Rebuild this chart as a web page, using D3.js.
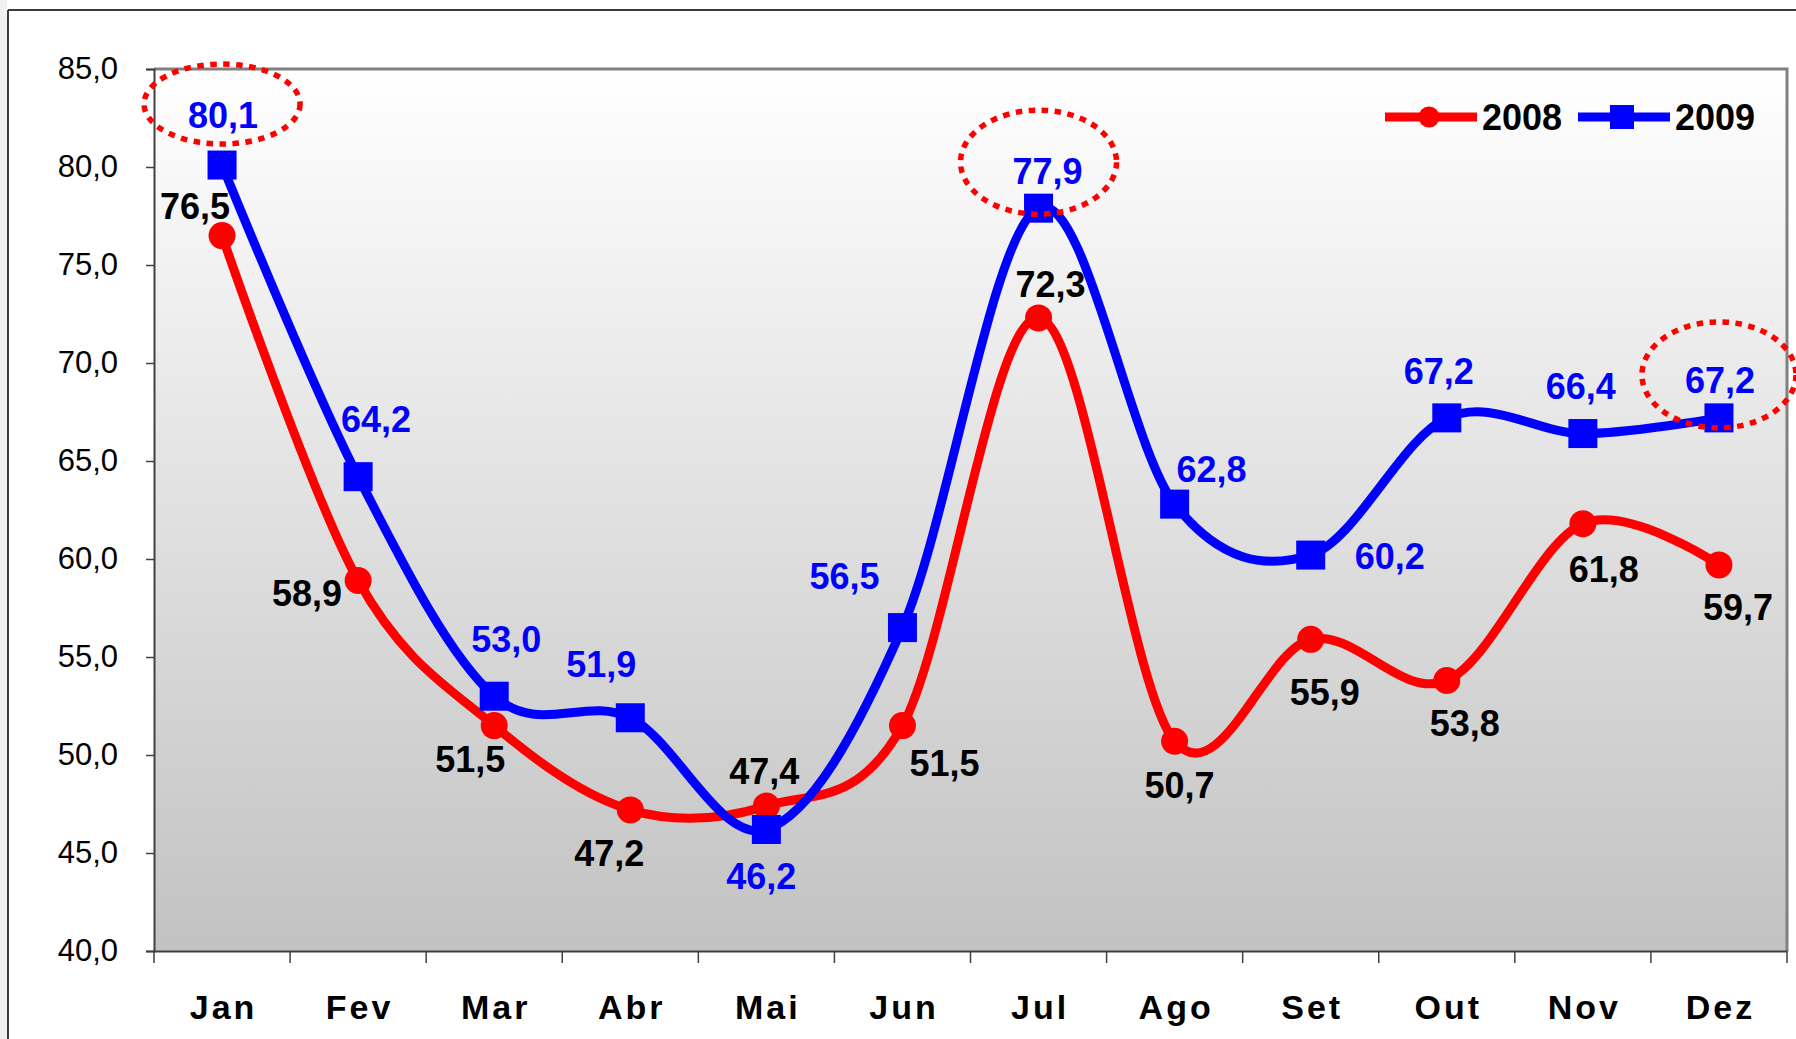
<!DOCTYPE html>
<html>
<head>
<meta charset="utf-8">
<script src="https://cdn.jsdelivr.net/npm/d3@7"></script>
<style>
  body { margin: 0; background: #fff; }
  text { font-family: "Liberation Sans", Arial, sans-serif; }
</style>
</head>
<body>
<div class="container"></div>
<script>
// data
var months = ["Jan", "Fev", "Mar", "Abr", "Mai", "Jun", "Jul", "Ago", "Set", "Out", "Nov", "Dez"];
var values2008 = [76.5, 58.9, 51.5, 47.2, 47.4, 51.5, 72.3, 50.7, 55.9, 53.8, 61.8, 59.7];
var values2009 = [80.1, 64.2, 53.0, 51.9, 46.2, 56.5, 77.9, 62.8, 60.2, 67.2, 66.4, 67.2];
var yTicks = [40, 45, 50, 55, 60, 65, 70, 75, 80, 85];
var highlighted = ["Jan", "Jul", "Dez"]; // 2009 values circled in red

// label offsets from the point (layout only)
var offsets2008 = [[-27,-30],[-51,12],[-24,33],[-21,43],[-2,-35],[42,37],[12,-34],[5,44],[14,53],[18,42],[21,45],[19,42]];
var offsets2009 = [[1,-50],[18,-58],[12,-57],[-29,-54],[-5,47],[-58,-52],[9,-37],[37,-35],[79,1],[-8,-47],[-2,-48],[1,-38]];
var ellipseSize = [[78,40,-61],[78,52,-46],[77,53,-43]]; // rx, ry, dy

var W = 1796, H = 1039;
var plotL = 154, plotR = 1787, plotT = 69, plotB = 951;

var svg = d3.select(".container").append("svg")
    .attr("width", W).attr("height", H);

// light strip at far left and outer frame
svg.append("rect").attr("x", 0).attr("y", 0).attr("width", 7).attr("height", H).attr("fill", "#eef1ee");
svg.append("line").attr("x1", 8).attr("x2", 8).attr("y1", 10).attr("y2", H).attr("stroke", "#3a3a3a").attr("stroke-width", 2);
svg.append("line").attr("x1", 8).attr("x2", W).attr("y1", 10).attr("y2", 10).attr("stroke", "#3a3a3a").attr("stroke-width", 2);

var defs = svg.append("defs");
var grad = defs.append("linearGradient").attr("id", "bg").attr("x1", 0).attr("x2", 0).attr("y1", 0).attr("y2", 1);
grad.append("stop").attr("offset", "0%").attr("stop-color", "#ffffff");
grad.append("stop").attr("offset", "100%").attr("stop-color", "#c2c2c2");

var x = d3.scaleBand().domain(months).range([plotL, plotR]);
var y = d3.scaleLinear().domain([40, 85]).range([plotB, plotT]);
var cx = function(i) { return x(months[i]) + x.bandwidth() / 2; };

// plot area
svg.append("rect").attr("x", plotL).attr("y", plotT).attr("width", plotR - plotL).attr("height", plotB - plotT)
    .attr("fill", "url(#bg)");
svg.append("path")
    .attr("d", "M" + plotL + "," + plotT + "H" + plotR + "V" + plotB)
    .attr("fill", "none").attr("stroke", "#808080").attr("stroke-width", 3);

// y axis
var yAxis = svg.append("g").attr("transform", "translate(" + plotL + ",0)")
    .call(d3.axisLeft(y).tickValues(yTicks).tickSize(8).tickPadding(28)
        .tickFormat(function(d) { return d3.format(".1f")(d).replace(".", ","); }));
yAxis.select(".domain").attr("stroke", "#404040").attr("stroke-width", 2);
yAxis.selectAll(".tick line").attr("stroke", "#404040").attr("stroke-width", 1.5);
yAxis.selectAll("text").attr("font-size", 31).attr("fill", "#000")
    .attr("font-family", "Liberation Sans, Arial, sans-serif");

// x axis
var xAxis = svg.append("g").attr("transform", "translate(0," + plotB + ")")
    .call(d3.axisBottom(x).tickSize(0).tickPadding(0));
xAxis.select(".domain").attr("stroke", "#404040").attr("stroke-width", 2);
xAxis.selectAll("text").remove();
xAxis.selectAll(".sep").data(d3.range(months.length + 1)).enter().append("line")
    .attr("x1", function(i) { return plotL + i * x.bandwidth(); })
    .attr("x2", function(i) { return plotL + i * x.bandwidth(); })
    .attr("y1", 0).attr("y2", 12)
    .attr("stroke", "#404040").attr("stroke-width", 1.5);
svg.selectAll(".month").data(months).enter().append("text")
    .attr("class", "month")
    .attr("x", function(d, i) { return cx(i) + 1.5; })
    .attr("y", 1019)
    .attr("text-anchor", "middle")
    .attr("font-size", 34).attr("font-weight", "bold").attr("letter-spacing", 3)
    .text(function(d) { return d; });

var line = d3.line()
    .x(function(d, i) { return cx(i); })
    .y(function(d) { return y(d); })
    .curve(d3.curveCardinal.tension(0));

function drawSeries(vals, color, shape, offsets, labelColor) {
    svg.append("path").datum(vals).attr("d", line)
        .attr("fill", "none").attr("stroke", color).attr("stroke-width", 9)
        .attr("stroke-linejoin", "round");
    var g = svg.append("g");
    if (shape == "circle") {
        g.selectAll("circle").data(vals).enter().append("circle")
            .attr("cx", function(d, i) { return cx(i); })
            .attr("cy", function(d) { return y(d); })
            .attr("r", 13.5).attr("fill", color);
    } else {
        g.selectAll("rect").data(vals).enter().append("rect")
            .attr("x", function(d, i) { return cx(i) - 14.5; })
            .attr("y", function(d) { return y(d) - 14.5; })
            .attr("width", 29).attr("height", 29).attr("fill", color);
    }
    return function() {
        svg.append("g").selectAll("text").data(vals).enter().append("text")
            .attr("x", function(d, i) { return cx(i) + offsets[i][0]; })
            .attr("y", function(d, i) { return y(d) + offsets[i][1] + 13; })
            .attr("text-anchor", "middle")
            .attr("font-size", 36).attr("font-weight", "bold")
            .attr("fill", labelColor)
            .text(function(d) { return d3.format(".1f")(d).replace(".", ","); });
    };
}

var labels2008 = drawSeries(values2008, "#ff0000", "circle", offsets2008, "#000000");
var labels2009 = drawSeries(values2009, "#0000ff", "square", offsets2009, "#0000ff");
labels2008();
labels2009();

// dotted ellipses around highlighted 2009 values
highlighted.forEach(function(m, k) {
    var i = months.indexOf(m);
    svg.append("ellipse")
        .attr("cx", cx(i))
        .attr("cy", y(values2009[i]) + ellipseSize[k][2])
        .attr("rx", ellipseSize[k][0]).attr("ry", ellipseSize[k][1])
        .attr("fill", "none").attr("stroke", "#ff0000").attr("stroke-width", 5.5)
        .attr("stroke-dasharray", "6.5,6.5");
});

// legend
var legend = [
    { name: "2008", color: "#ff0000", shape: "circle", x: 1385 },
    { name: "2009", color: "#0000ff", shape: "square", x: 1578 }
];
legend.forEach(function(l) {
    svg.append("line").attr("x1", l.x).attr("x2", l.x + 92).attr("y1", 117).attr("y2", 117)
        .attr("stroke", l.color).attr("stroke-width", 9);
    if (l.shape == "circle") {
        svg.append("circle").attr("cx", l.x + 44).attr("cy", 117).attr("r", 10.5).attr("fill", l.color);
    } else {
        svg.append("rect").attr("x", l.x + 32).attr("y", 105).attr("width", 24).attr("height", 24).attr("fill", l.color);
    }
    svg.append("text").attr("x", l.x + 97).attr("y", 130)
        .attr("font-size", 36).attr("font-weight", "bold").text(l.name);
});
</script>
</body>
</html>
